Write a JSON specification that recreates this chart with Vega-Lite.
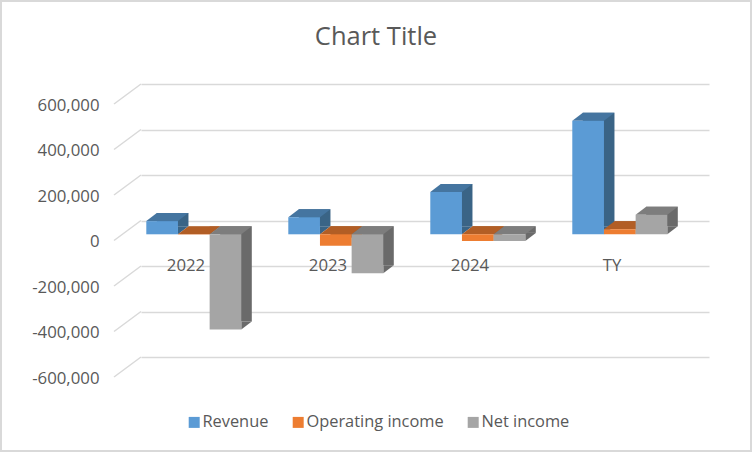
{
"$schema":"https://vega.github.io/schema/vega-lite/v6.json",
"width":752,"height":452,"autosize":"none","padding":0,"background":"white",
"config":{"view":{"stroke":"#D9D9D9","strokeWidth":4},"font":"Open Sans"},
"title":{"text":"Chart Title","fontSize":25.5,"fontWeight":"normal","color":"#595959","font":"Open Sans","anchor":"middle","frame":"group","dy":54},
"data":{"values":[
{"category":"2022","series":"Revenue","value":58000},
{"category":"2022","series":"Operating income","value":-1000},
{"category":"2022","series":"Net income","value":-419000},
{"category":"2023","series":"Revenue","value":75000},
{"category":"2023","series":"Operating income","value":-50000},
{"category":"2023","series":"Net income","value":-171000},
{"category":"2024","series":"Revenue","value":186000},
{"category":"2024","series":"Operating income","value":-29000},
{"category":"2024","series":"Net income","value":-29000},
{"category":"TY","series":"Revenue","value":499000},
{"category":"TY","series":"Operating income","value":22000},
{"category":"TY","series":"Net income","value":86000}
]},
"encoding":{
"x":{"field":"category","type":"nominal","sort":null,"title":null,"axis":null,
"scale":{"range":[141,709],"paddingInner":0,"paddingOuter":0}},
"y":{"field":"value","type":"quantitative","title":null,"axis":null,
"scale":{"domain":[-1017582,969231],"nice":false,"zero":false}}
},
"resolve":{"scale":{"color":"independent","xOffset":"independent"},"axis":{"x":"independent","y":"independent"}},
"layer":[
{"data":{"values":[{"tick":-600000,"category":"2022"},{"tick":-400000,"category":"2022"},{"tick":-200000,"category":"2022"},{"tick":0,"category":"2022"},{"tick":200000,"category":"2022"},{"tick":400000,"category":"2022"},{"tick":600000,"category":"2022"}]},
"mark":{"type":"point","shape":"M-71,0L-98,20","size":4,"filled":false,"stroke":"#D9D9D9","strokeWidth":1.5,"opacity":1},
"encoding":{
"x":{"field":"category","type":"nominal","sort":null,"title":null,
"scale":{"domain":["2022","2023","2024","TY"],"range":[141,709],"paddingInner":0,"paddingOuter":0},
"axis":{"orient":"bottom","offset":-195,"ticks":false,"domain":false,"grid":false,"labelAngle":0,"labelPadding":0,"labelOffset":-26,"labelFontSize":16.8,"labelColor":"#595959","labelFont":"Open Sans"}},
"y":{"field":"tick","type":"quantitative","title":null,
"axis":{"orient":"left","values":[-600000,-400000,-200000,0,200000,400000,600000],"offset":-99,"ticks":false,"domain":false,"grid":true,"gridColor":"#D9D9D9","gridWidth":1.5,"labelPadding":0,"labelOffset":21,"labelFontSize":16.8,"labelColor":"#595959","labelFont":"Open Sans","labelExpr":"replace(format(datum.value,','),'\u2212','-')"}}}},
{"mark":{"type":"bar","yOffset":5.8,"y2Offset":5.8},
"encoding":{"y2":{"datum":0},
"xOffset":{"field":"series","type":"nominal","sort":null,"scale":{"domain":["Revenue","Operating income","Net income"],"range":[15.8,110.8],"paddingInner":0,"paddingOuter":0}},
"color":{"field":"series","type":"nominal","legend":null,"scale":{"domain":["Revenue","Operating income","Net income"],"range":["#3A6486","#9E5421","#6A6A6A"]}}}},
{"transform":[{"filter":"datum.value>=0"}],
"mark":{"type":"point","shape":"M15.83,0L26.33,-8L15.83,-8Z","size":4,"filled":true,"strokeWidth":0,"opacity":1,"yOffset":13.8},
"encoding":{"y":{"datum":0,"axis":null},
"xOffset":{"field":"series","type":"nominal","sort":null,"scale":{"type":"point","domain":["Revenue","Operating income","Net income"],"range":[21.13,84.47],"padding":0}},
"color":{"field":"series","type":"nominal","legend":null,"scale":{"domain":["Revenue","Operating income","Net income"],"range":["#3A6486","#9E5421","#6A6A6A"]}}}},
{"transform":[{"filter":"datum.value<0"}],
"mark":{"type":"point","shape":"M15.83,0L26.33,-8L15.83,-8Z","size":4,"filled":true,"strokeWidth":0,"opacity":1,"yOffset":13.8},
"encoding":{
"xOffset":{"field":"series","type":"nominal","sort":null,"scale":{"type":"point","domain":["Revenue","Operating income","Net income"],"range":[21.13,84.47],"padding":0}},
"color":{"field":"series","type":"nominal","legend":null,"scale":{"domain":["Revenue","Operating income","Net income"],"range":["#3A6486","#9E5421","#6A6A6A"]}}}},
{"transform":[{"filter":"datum.value>=0"}],
"mark":{"type":"point","shape":"M-15.83,0L15.83,0L26.33,-8L-5.33,-8Z","size":4,"filled":true,"strokeWidth":0,"opacity":1,"yOffset":13.8},
"encoding":{
"xOffset":{"field":"series","type":"nominal","sort":null,"scale":{"type":"point","domain":["Revenue","Operating income","Net income"],"range":[21.13,84.47],"padding":0}},
"color":{"field":"series","type":"nominal","legend":null,"scale":{"domain":["Revenue","Operating income","Net income"],"range":["#4575A0","#B25E25","#7D7D7D"]}}}},
{"transform":[{"filter":"datum.value<0"}],
"mark":{"type":"point","shape":"M-15.83,0L15.83,0L26.33,-8L-5.33,-8Z","size":4,"filled":true,"strokeWidth":0,"opacity":1,"yOffset":13.8},
"encoding":{"y":{"datum":0,"axis":null},
"xOffset":{"field":"series","type":"nominal","sort":null,"scale":{"type":"point","domain":["Revenue","Operating income","Net income"],"range":[21.13,84.47],"padding":0}},
"color":{"field":"series","type":"nominal","legend":null,"scale":{"domain":["Revenue","Operating income","Net income"],"range":["#4575A0","#B25E25","#7D7D7D"]}}}},
{"mark":{"type":"bar","yOffset":13.8,"y2Offset":13.8},
"encoding":{"y2":{"datum":0},
"xOffset":{"field":"series","type":"nominal","sort":null,"scale":{"domain":["Revenue","Operating income","Net income"],"range":[5.3,100.3],"paddingInner":0,"paddingOuter":0}},
"color":{"field":"series","type":"nominal","scale":{"domain":["Revenue","Operating income","Net income"],"range":["#5B9BD5","#ED7D31","#A5A5A5"]},
"legend":{"title":null,"orient":"none","legendX":186,"legendY":414,"direction":"horizontal","columns":3,"columnPadding":21,"symbolType":"square","symbolSize":121,"symbolStrokeWidth":0,"labelOffset":0,"labelFontSize":16.4,"labelColor":"#595959","labelFont":"Open Sans","labelLimit":300}}}}
]
}
